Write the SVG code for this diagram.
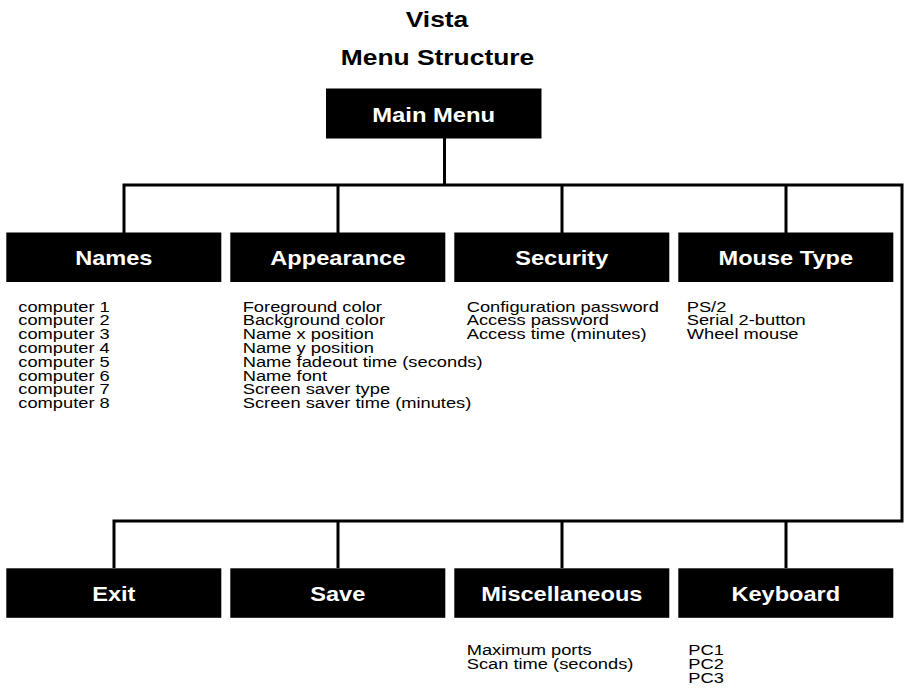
<svg xmlns="http://www.w3.org/2000/svg" width="904" height="699" viewBox="0 0 904 699">
<style>
.box{fill:#000}
.lbl{font-family:"Liberation Sans",Arial,sans-serif;font-weight:bold;font-size:20px;fill:#fff;text-anchor:middle}
.ttl{font-family:"Liberation Sans",Arial,sans-serif;font-weight:bold;font-size:22px;fill:#000;text-anchor:middle}
.txt{font-family:"Liberation Sans",Arial,sans-serif;font-size:15px;fill:#000}
.con{fill:none;stroke:#000;stroke-width:3;stroke-linejoin:miter}
</style>
<rect width="904" height="699" fill="#fff"/>
<g id="title">
<text class="ttl" transform="translate(437,26.7) scale(1.2,1)">Vista</text>
<text class="ttl" transform="translate(437.5,65) scale(1.2,1)">Menu Structure</text>
</g>
<g id="connectors">
<path class="con" d="M444.5 138 V185"/>
<path class="con" d="M124 233 V185 H902 V521 H114 V568"/>
<path class="con" d="M338 185 V233 M562 185 V233 M786 185 V233"/>
<path class="con" d="M338 521 V568 M562 521 V568 M786 521 V568"/>
</g>
<g id="main-menu">
<rect class="box" x="326" y="88.5" width="215.5" height="50"/>
<text class="lbl" transform="translate(433.7,121.7) scale(1.19,1)">Main Menu</text>
</g>
<g id="names">
<rect class="box" x="6.3" y="232.5" width="215" height="49.5"/>
<text class="lbl" transform="translate(113.8,265) scale(1.18,1)">Names</text>
<g transform="translate(18.3,0) scale(1.22,1)">
<text class="txt" x="0" y="311.7">computer 1</text>
<text class="txt" x="0" y="325.5">computer 2</text>
<text class="txt" x="0" y="339.3">computer 3</text>
<text class="txt" x="0" y="353.1">computer 4</text>
<text class="txt" x="0" y="366.9">computer 5</text>
<text class="txt" x="0" y="380.7">computer 6</text>
<text class="txt" x="0" y="394.5">computer 7</text>
<text class="txt" x="0" y="408.3">computer 8</text>
</g>
</g>
<g id="appearance">
<rect class="box" x="230.3" y="232.5" width="215" height="49.5"/>
<text class="lbl" transform="translate(337.8,265) scale(1.18,1)">Appearance</text>
<g transform="translate(242.7,0) scale(1.22,1)">
<text class="txt" x="0" y="311.7">Foreground color</text>
<text class="txt" x="0" y="325.5">Background color</text>
<text class="txt" x="0" y="339.3">Name x position</text>
<text class="txt" x="0" y="353.1">Name y position</text>
<text class="txt" x="0" y="366.9">Name fadeout time (seconds)</text>
<text class="txt" x="0" y="380.7">Name font</text>
<text class="txt" x="0" y="394.5">Screen saver type</text>
<text class="txt" x="0" y="408.3">Screen saver time (minutes)</text>
</g>
</g>
<g id="security">
<rect class="box" x="454.3" y="232.5" width="215" height="49.5"/>
<text class="lbl" transform="translate(561.8,265) scale(1.18,1)">Security</text>
<g transform="translate(466.7,0) scale(1.22,1)">
<text class="txt" x="0" y="311.7">Configuration password</text>
<text class="txt" x="0" y="325.5">Access password</text>
<text class="txt" x="0" y="339.3">Access time (minutes)</text>
</g>
</g>
<g id="mouse-type">
<rect class="box" x="678.3" y="232.5" width="215" height="49.5"/>
<text class="lbl" transform="translate(785.8,265) scale(1.18,1)">Mouse Type</text>
<g transform="translate(686.7,0) scale(1.22,1)">
<text class="txt" x="0" y="311.7">PS/2</text>
<text class="txt" x="0" y="325.5">Serial 2-button</text>
<text class="txt" x="0" y="339.3">Wheel mouse</text>
</g>
</g>
<g id="exit">
<rect class="box" x="6.3" y="568.3" width="215" height="49.5"/>
<text class="lbl" transform="translate(113.8,601) scale(1.18,1)">Exit</text>
</g>
<g id="save">
<rect class="box" x="230.3" y="568.3" width="215" height="49.5"/>
<text class="lbl" transform="translate(337.8,601) scale(1.18,1)">Save</text>
</g>
<g id="miscellaneous">
<rect class="box" x="454.3" y="568.3" width="215" height="49.5"/>
<text class="lbl" transform="translate(561.8,601) scale(1.18,1)">Miscellaneous</text>
<g transform="translate(466.7,0) scale(1.22,1)">
<text class="txt" x="0" y="655">Maximum ports</text>
<text class="txt" x="0" y="669">Scan time (seconds)</text>
</g>
</g>
<g id="keyboard">
<rect class="box" x="678.3" y="568.3" width="215" height="49.5"/>
<text class="lbl" transform="translate(785.8,601) scale(1.18,1)">Keyboard</text>
<g transform="translate(688.3,0) scale(1.22,1)">
<text class="txt" x="0" y="655">PC1</text>
<text class="txt" x="0" y="669">PC2</text>
<text class="txt" x="0" y="683">PC3</text>
</g>
</g>
</svg>
